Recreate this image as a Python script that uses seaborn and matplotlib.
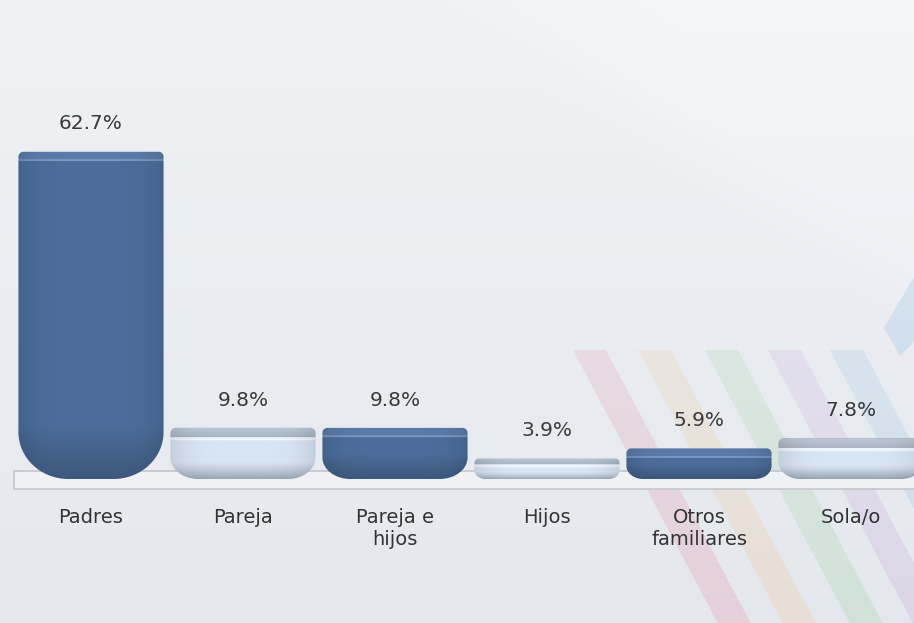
import numpy as np
import pandas as pd
import matplotlib
matplotlib.use("Agg")
import matplotlib.pyplot as plt
import seaborn as sns
from matplotlib.path import Path
from matplotlib.patches import PathPatch, Polygon, Rectangle

# -------- data --------
categories = ["Padres", "Pareja", "Pareja e\nhijos", "Hijos", "Otros\nfamiliares", "Sola/o"]
values = [62.7, 9.8, 9.8, 3.9, 5.9, 7.8]
value_labels = ["62.7%", "9.8%", "9.8%", "3.9%", "5.9%", "7.8%"]
tones = ["dark", "light", "dark", "light", "dark", "light"]

W, H = 914, 623
BASE = 479          # baseline in pixels from top
PX_PER_UNIT = 5.22  # vertical pixels per percentage point
SLOT = 152          # pixels per category
FIRST = 91          # pixel centre of first category

sns.set_theme(style="white")
plt.rcParams["font.family"] = ["DejaVu Sans"]

fig = plt.figure(figsize=(W / 100, H / 100), dpi=100)

# -------- background --------
bg = fig.add_axes([0, 0, 1, 1])
bg.set_axis_off()
yy, xx = np.mgrid[0:H:2, 0:W:2]
top = np.array([0.940, 0.948, 0.960])
bot = np.array([0.895, 0.908, 0.930])
t = (yy / H)[..., None]
img = top * (1 - t) + bot * t
# faint lighter wedge upper right
line_y = 133 + (xx - 600) * (200 / 314)
soft = np.clip((line_y - yy) / 80, 0, 1) * np.clip((xx - 380) / 300, 0, 1)
img = img + soft[..., None] * 0.015
bg.imshow(np.clip(img, 0, 1), extent=(0, W, H, 0), aspect="auto", zorder=0)
bg.set_xlim(0, W)
bg.set_ylim(H, 0)

# coloured diagonal stripes
stripe_x = [573, 638, 705, 768, 830]
stripe_cols = [(0.90, 0.62, 0.72), (0.94, 0.80, 0.64), (0.66, 0.84, 0.68),
               (0.80, 0.70, 0.86), (0.62, 0.78, 0.90)]
slope = 0.53
for sx, col in zip(stripe_x, stripe_cols):
    poly = Polygon([(sx, 350), (sx + 33, 350), (sx + 33 + slope * (H - 350), H),
                    (sx + slope * (H - 350), H)], closed=True, facecolor="none",
                   edgecolor="none")
    bg.add_patch(poly)
    grad = np.zeros((80, 2, 4))
    grad[..., :3] = col
    a = np.linspace(0.22, 0.32, 80)
    grad[..., 3] = a[:, None]
    im = bg.imshow(grad, extent=(sx, sx + 33 + slope * (H - 350) + 1, H, 350),
                   aspect="auto", zorder=1)
    im.set_clip_path(poly)

bg.add_patch(Polygon([(914, 277), (884, 328), (900, 356), (914, 342)], closed=True,
                     facecolor=(0.74, 0.84, 0.93), alpha=0.5, edgecolor="none", zorder=1))

# floor
bg.add_patch(Rectangle((14, 471), W, 18, facecolor=(0.94, 0.947, 0.958),
                       edgecolor=(0.78, 0.79, 0.81), lw=1.3, zorder=2))
bg.set_xlim(0, W)
bg.set_ylim(H, 0)

# -------- bars --------
ax = fig.add_axes([0, (H - BASE) / H, 1, BASE / H])
ax.patch.set_alpha(0)
df = pd.DataFrame({"categoria": categories, "valor": values, "tono": tones})
sns.barplot(data=df, x="categoria", y="valor", hue="categoria",
            palette=["#4c6d9c" if t == "dark" else "#d6e2f1" for t in tones],
            width=0.955, legend=False, ax=ax)

xlim = ((0 - FIRST) / SLOT, (W - FIRST) / SLOT)
ylim = (0, BASE / PX_PER_UNIT)
ax.set_xlim(*xlim)
ax.set_ylim(*ylim)
sx_px = SLOT
sy_px = PX_PER_UNIT
K = 0.5523


def bar_path(x0, x1, h, rtx, rty, rbx, rby):
    y0, y1 = 0, h
    verts = [
        (x0, y1 - rty), (x0, y0 + rby),
        (x0, y0 + rby * (1 - K)), (x0 + rbx * (1 - K), y0), (x0 + rbx, y0),
        (x1 - rbx, y0),
        (x1 - rbx * (1 - K), y0), (x1, y0 + rby * (1 - K)), (x1, y0 + rby),
        (x1, y1 - rty),
        (x1, y1 - rty * (1 - K)), (x1 - rtx * (1 - K), y1), (x1 - rtx, y1),
        (x0 + rtx, y1),
        (x0 + rtx * (1 - K), y1), (x0, y1 - rty * (1 - K)), (x0, y1 - rty),
        (x0, y1 - rty),
    ]
    codes = [Path.MOVETO, Path.LINETO,
             Path.CURVE4, Path.CURVE4, Path.CURVE4,
             Path.LINETO,
             Path.CURVE4, Path.CURVE4, Path.CURVE4,
             Path.LINETO,
             Path.CURVE4, Path.CURVE4, Path.CURVE4,
             Path.LINETO,
             Path.CURVE4, Path.CURVE4, Path.CURVE4,
             Path.CLOSEPOLY]
    return Path(verts, codes)


def row_colour(tone, d, hb):
    b = hb - d
    if tone == "dark":
        band = min(8, 0.3 * hb)
        if d < 1.5:
            c = np.array([0.46, 0.57, 0.73])
        elif d < band:
            c = np.array([0.36, 0.48, 0.66])
        elif d < band + 2:
            c = np.array([0.47, 0.59, 0.76])
        else:
            c = np.array([0.30, 0.43, 0.61])
        f = 1 - 0.2 * max(0.0, 1 - b / min(55, 0.5 * hb))
        return c * f
    else:
        band = min(10, 0.3 * hb)
        if d < 1.5:
            c = np.array([0.64, 0.68, 0.74])
        elif d < band:
            s = d / band
            c = np.array([0.75, 0.79, 0.84]) * (1 - s) + np.array([0.66, 0.71, 0.77]) * s
        elif d < band + 3:
            c = np.array([0.95, 0.97, 0.995])
        else:
            c = np.array([0.85, 0.90, 0.96])
        m = max(0.0, 1 - b / min(26, 0.35 * hb)) ** 1.3
        return c * (1 - m) + np.array([0.60, 0.64, 0.70]) * m


for patch in list(ax.patches):
    x0 = patch.get_x()
    w = patch.get_width()
    h = patch.get_height()
    idx = int(round(x0 + w / 2))
    tone = tones[idx]
    patch.set_visible(False)
    h_px = h * sy_px
    rby_px = min(47, 0.42 * h_px)
    rbx_px = min(50, 1.3 * rby_px)
    rt_px = min(5, 0.2 * h_px)
    path = bar_path(x0, x0 + w, h, rt_px / sx_px, rt_px / sy_px,
                    rbx_px / sx_px, rby_px / sy_px)
    clip = PathPatch(path, facecolor="none", edgecolor="none")
    ax.add_patch(clip)
    nrows = max(int(round(h_px)), 2)
    ncols = 64
    rows = np.array([row_colour(tone, d + 0.5, h_px) for d in range(nrows)])
    u = np.linspace(0, 1, ncols)
    shade = 1 - 0.10 * np.abs(2 * u - 1) ** 4
    arr = np.clip(rows[:, None, :] * shade[None, :, None], 0, 1)
    im = ax.imshow(arr, extent=(x0, x0 + w, 0, h), origin="upper",
                   aspect="auto", zorder=3, interpolation="bilinear")
    im.set_clip_path(clip)
    ax.annotate(value_labels[idx], xy=(x0 + w / 2, h), xytext=(0, 16),
                textcoords="offset points", ha="center", va="baseline",
                fontsize=14.5, color="#3a3a3a", zorder=5)

ax.set_xlim(*xlim)
ax.set_ylim(*ylim)
ax.set_xlabel("")
ax.set_ylabel("")
ax.set_yticks([])
ax.tick_params(axis="x", length=0, pad=21, labelsize=14, labelcolor="#333333")
sns.despine(ax=ax, left=True, bottom=True)

fig.savefig("out.png", dpi=100)
